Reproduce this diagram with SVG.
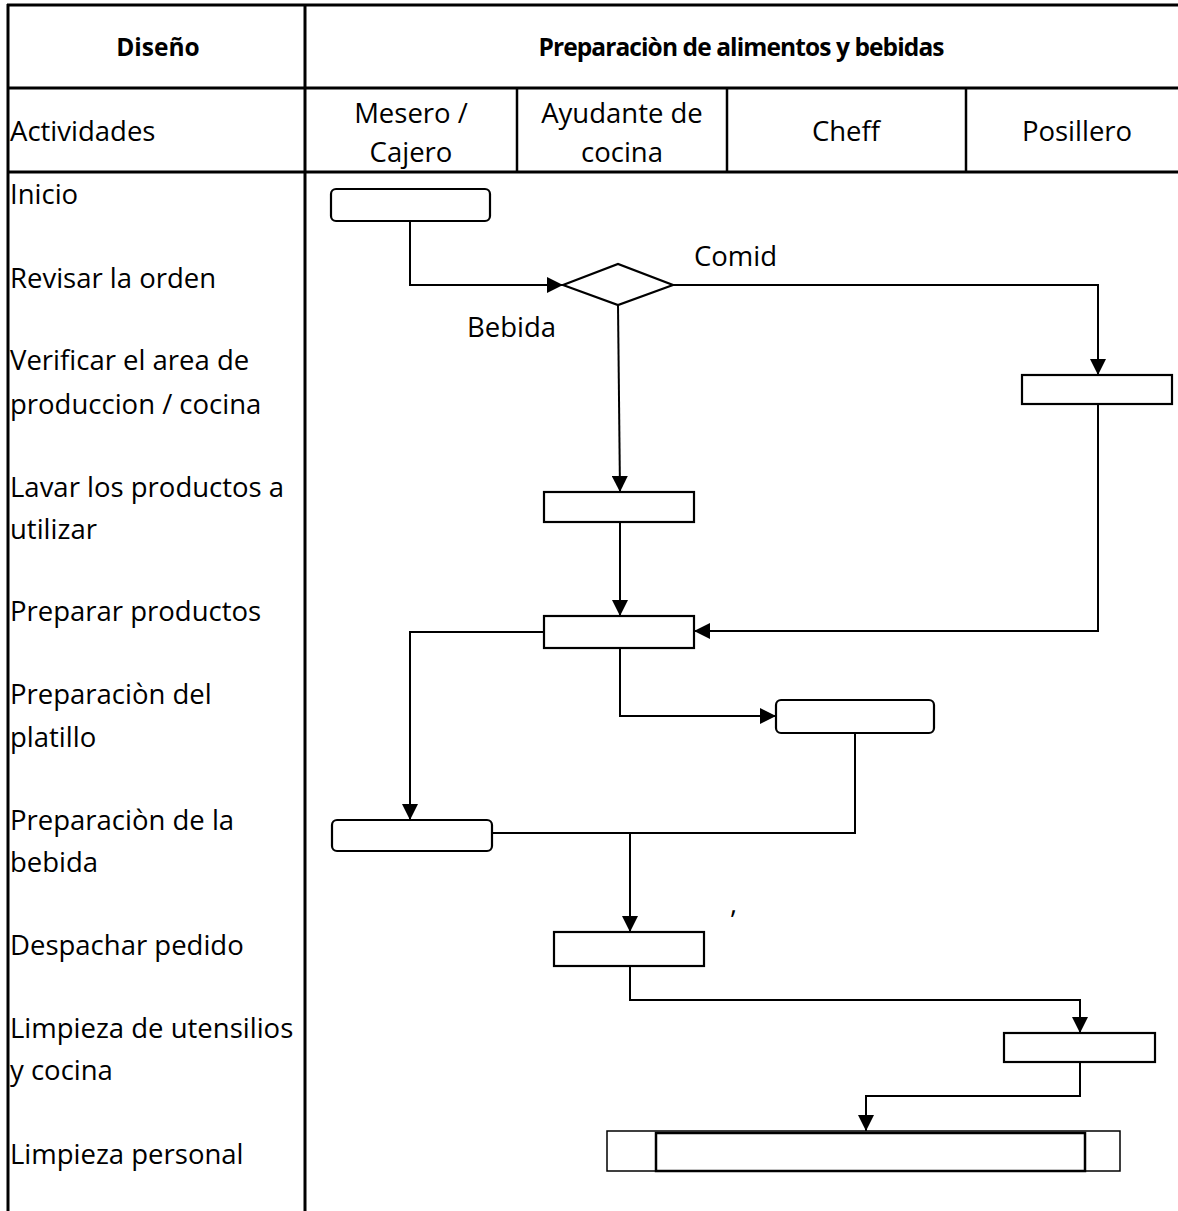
<svg xmlns="http://www.w3.org/2000/svg" width="1178" height="1211" viewBox="0 0 1178 1211">
  <style>
    .bg { fill: #ffffff; }
    .grid { stroke: #000000; stroke-width: 3; fill: none; }
    .lane { stroke: #000000; stroke-width: 2.5; fill: none; }
    .txt { font-family: "Open Sans", "Liberation Sans", sans-serif; font-size: 27.5px; fill: #000000; }
    .bold { font-family: "Open Sans", "Liberation Sans", sans-serif; font-size: 24.5px; font-weight: bold; fill: #000000; }
    .tight { letter-spacing: -0.9px; }
    .mid { text-anchor: middle; }
    .box { fill: #ffffff; stroke: #000000; stroke-width: 2.2; }
    .edge { fill: none; stroke: #000000; stroke-width: 2; }
  </style>
  <defs>
    <marker id="arrow" viewBox="0 0 16 16" refX="16" refY="8" markerWidth="16" markerHeight="16" markerUnits="userSpaceOnUse" orient="auto">
      <path d="M0,0 L16,8 L0,16 Z" fill="#000000"/>
    </marker>
  </defs>

  <rect class="bg" x="0" y="0" width="1178" height="1211"/>

  <!-- table grid -->
  <g id="table">
    <line class="grid" x1="7" y1="5" x2="1178" y2="5"/>
    <line class="grid" x1="7" y1="88" x2="1178" y2="88"/>
    <line class="grid" x1="7" y1="172" x2="1178" y2="172"/>
    <line class="grid" x1="8" y1="4" x2="8" y2="1211"/>
    <line class="grid" x1="305" y1="4" x2="305" y2="1211"/>
    <line class="lane" x1="517" y1="88" x2="517" y2="172"/>
    <line class="lane" x1="727" y1="88" x2="727" y2="172"/>
    <line class="lane" x1="966" y1="88" x2="966" y2="172"/>
  </g>

  <!-- header texts -->
  <g id="headers">
    <text class="bold mid" x="158" y="56">Diseño</text>
    <text class="bold mid tight" x="741" y="56">Preparaciòn de alimentos y bebidas</text>
    <text class="txt" x="10" y="141">Actividades</text>
    <text class="txt mid" x="411" y="123">Mesero /</text>
    <text class="txt mid" x="411" y="162">Cajero</text>
    <text class="txt mid" x="622" y="123">Ayudante de</text>
    <text class="txt mid" x="622" y="162">cocina</text>
    <text class="txt mid" x="846" y="141">Cheff</text>
    <text class="txt mid" x="1077" y="141">Posillero</text>
  </g>

  <!-- activity list -->
  <g id="activities">
    <text class="txt" x="10" y="204">Inicio</text>
    <text class="txt" x="10" y="288">Revisar la orden</text>
    <text class="txt" x="10" y="370">Verificar el area de</text>
    <text class="txt" x="10" y="414">produccion / cocina</text>
    <text class="txt" x="10" y="497">Lavar los productos a</text>
    <text class="txt" x="10" y="539">utilizar</text>
    <text class="txt" x="10" y="621">Preparar productos</text>
    <text class="txt" x="10" y="704">Preparaciòn del</text>
    <text class="txt" x="10" y="747">platillo</text>
    <text class="txt" x="10" y="830">Preparaciòn de la</text>
    <text class="txt" x="10" y="872">bebida</text>
    <text class="txt" x="10" y="955">Despachar pedido</text>
    <text class="txt" x="10" y="1038">Limpieza de utensilios</text>
    <text class="txt" x="10" y="1080">y cocina</text>
    <text class="txt" x="10" y="1164">Limpieza personal</text>
  </g>

  <!-- connectors -->
  <g id="connectors">
    <path class="edge" d="M410,221 V285 H563" marker-end="url(#arrow)"/>
    <path class="edge" d="M673,285 H1098 V375" marker-end="url(#arrow)"/>
    <path class="edge" d="M618,305 L620,492" marker-end="url(#arrow)"/>
    <path class="edge" d="M620,522 V616" marker-end="url(#arrow)"/>
    <path class="edge" d="M1098,404 V631 H694" marker-end="url(#arrow)"/>
    <path class="edge" d="M544,632 H410 V820" marker-end="url(#arrow)"/>
    <path class="edge" d="M620,648 V716 H776" marker-end="url(#arrow)"/>
    <path class="edge" d="M855,733 V833 H492"/>
    <path class="edge" d="M630,833 V932" marker-end="url(#arrow)"/>
    <path class="edge" d="M630,966 V1000 H1080 V1033" marker-end="url(#arrow)"/>
    <path class="edge" d="M1080,1062 V1096 H866 V1131" marker-end="url(#arrow)"/>
    <text class="txt" x="694" y="266">Comid</text>
    <text class="txt" x="467" y="337">Bebida</text>
    <text class="txt" x="730" y="913">,</text>
  </g>

  <!-- process nodes -->
  <g id="inicio"><rect class="box" x="331" y="189" width="159" height="32" rx="5"/></g>
  <g id="decision"><polygon class="box" points="563,285 618,264 673,285 618,305"/></g>
  <g id="verificar"><rect class="box" x="1022" y="375" width="150" height="29"/></g>
  <g id="lavar"><rect class="box" x="544" y="492" width="150" height="30"/></g>
  <g id="preparar"><rect class="box" x="544" y="616" width="150" height="32"/></g>
  <g id="platillo"><rect class="box" x="776" y="700" width="158" height="33" rx="5"/></g>
  <g id="bebida"><rect class="box" x="332" y="820" width="160" height="31" rx="5"/></g>
  <g id="despachar"><rect class="box" x="554" y="932" width="150" height="34"/></g>
  <g id="limpieza-utensilios"><rect class="box" x="1004" y="1033" width="151" height="29"/></g>
  <g id="limpieza-personal">
    <rect class="box" x="607" y="1131" width="513" height="40" style="stroke-width:1.5"/>
    <rect class="box" x="656" y="1133" width="429" height="38" style="stroke-width:2.5"/>
  </g>
</svg>
